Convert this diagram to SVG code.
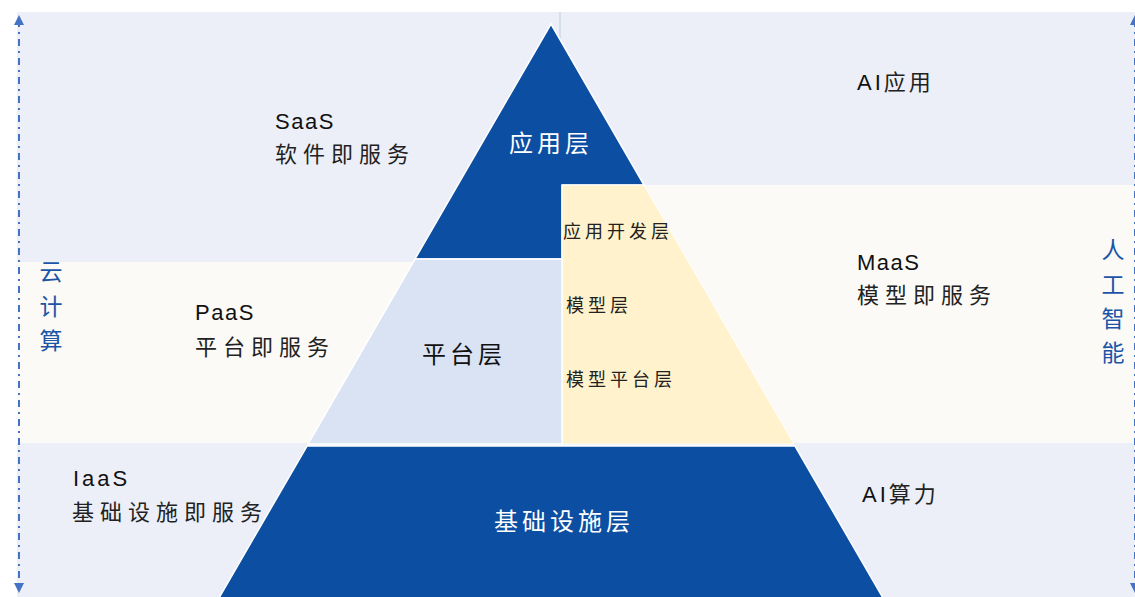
<svg xmlns="http://www.w3.org/2000/svg" width="1135" height="597" viewBox="0 0 1135 597">
<style>
.lat{font-family:"Liberation Sans",Arial,sans-serif;font-size:22px;fill:#111;letter-spacing:1.5px}
.cjk{font-family:"Noto Sans CJK SC",sans-serif;font-size:22px;fill:#222;letter-spacing:6px}
.lay{font-family:"Noto Sans CJK SC",sans-serif;font-size:24px;letter-spacing:4px}
.sub{font-family:"Noto Sans CJK SC",sans-serif;font-size:18px;fill:#222;letter-spacing:4px}
.vert{font-family:"Noto Sans CJK SC",sans-serif;font-size:23px;fill:#1B55A6;text-anchor:middle}
.dark{fill:#0C4EA2;stroke:#fff;stroke-width:1.5}
.axis{stroke:#4472C4;stroke-width:2;stroke-dasharray:7 5 2 5;fill:none}
</style>
<defs>
<marker id="ah" viewBox="0 0 10 10" refX="5" refY="5" markerWidth="5" markerHeight="5" orient="auto-start-reverse">
<path d="M0,0 L10,5 L0,10 z" fill="#4472C4"/>
</marker>
</defs>
<rect width="1135" height="597" fill="#fff"/>
<g id="background">
<rect x="17" y="12" width="1118" height="585" fill="#ECEFF7"/>
<rect x="17" y="262" width="420" height="181" fill="#FBFAF6"/>
<rect x="562" y="185" width="573" height="258" fill="#FBFAF6"/>
<line x1="560" y1="12" x2="560" y2="186" stroke="#D6DEEA" stroke-width="2"/>
</g>
<g id="layer-app">
<polygon class="dark" points="551,24 644,185 562,185 562,259 415,259"/>
<text class="lay" x="551" y="152" fill="#fff" text-anchor="middle">应用层</text>
</g>
<g id="layer-ai-platform">
<polygon points="562,185 644,185 794,444 562,444" fill="#FFF2CC" stroke="#fff" stroke-width="1"/>
<text class="sub" x="563" y="238">应用开发层</text>
<text class="sub" x="566" y="312">模型层</text>
<text class="sub" x="566" y="386">模型平台层</text>
</g>
<g id="layer-platform">
<polygon points="415,259 562,259 562,444 308,444" fill="#DAE3F3" stroke="#fff" stroke-width="1.5"/>
<text class="lay" x="464" y="363" fill="#111" text-anchor="middle">平台层</text>
</g>
<g id="layer-infra">
<polygon class="dark" points="307,446 795,446 883,598 219,598"/>
<text class="lay" x="564" y="530" fill="#fff" text-anchor="middle">基础设施层</text>
</g>
<g id="saas">
<text class="lat" x="275" y="129">SaaS</text>
<text class="cjk" x="275" y="162">软件即服务</text>
</g>
<g id="paas">
<text class="lat" x="195" y="320">PaaS</text>
<text class="cjk" x="195" y="355">平台即服务</text>
</g>
<g id="iaas">
<text class="lat" x="73" y="486" style="letter-spacing:3px">IaaS</text>
<text class="cjk" x="72" y="520">基础设施即服务</text>
</g>
<g id="ai-app">
<text class="lat" x="857" y="90" style="letter-spacing:3px">AI<tspan class="cjk" style="letter-spacing:3px">应用</tspan></text>
</g>
<g id="maas">
<text class="lat" x="857" y="270">MaaS</text>
<text class="cjk" x="857" y="303">模型即服务</text>
</g>
<g id="ai-compute">
<text class="lat" x="862" y="502" style="letter-spacing:3px">AI<tspan class="cjk" style="letter-spacing:3px">算力</tspan></text>
</g>
<g id="cloud-label">
<text class="vert" x="51" y="280">云</text>
<text class="vert" x="51" y="315">计</text>
<text class="vert" x="51" y="349">算</text>
</g>
<g id="ai-label">
<text class="vert" x="1113" y="258">人</text>
<text class="vert" x="1113" y="293">工</text>
<text class="vert" x="1113" y="327">智</text>
<text class="vert" x="1113" y="361">能</text>
</g>
<g id="connectors">
<line class="axis" x1="19" y1="20" x2="19" y2="588" marker-start="url(#ah)" marker-end="url(#ah)"/>
<line class="axis" x1="1135" y1="20" x2="1135" y2="588" marker-start="url(#ah)" marker-end="url(#ah)"/>
</g>
</svg>
